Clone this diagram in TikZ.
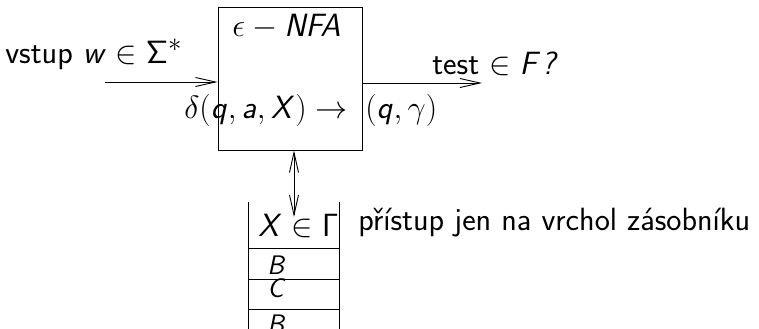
\documentclass[tikz,border=0pt]{standalone}
\usetikzlibrary{arrows.meta}
\DeclareMathAlphabet{\mathsfsl}{OT1}{cmss}{m}{sl}
\DeclareMathAlphabet{\mathsfup}{OT1}{cmss}{m}{n}
\newcommand\mi[1]{\mathsfsl{#1}}
\tikzset{
 lbl/.style={font=\fontsize{24.88}{30}\selectfont\sffamily, inner sep=0pt, anchor=base west},
 cell/.style={lbl, font=\fontsize{20.74}{25}\selectfont\sffamily},
 ln/.style={line width=0.7pt},
 tip/.style={-{Straight Barb[length=15.5pt,width=7pt]}},
 dtip/.style={{Straight Barb[length=15.5pt,width=7pt]}-{Straight Barb[length=15.5pt,width=7pt]}}
}
\begin{document}
\begin{tikzpicture}[x=0.773pt,y=-0.773pt]
\useasboundingbox (0,0) rectangle (759,328);
\node[ln,draw,minimum width=111.3pt,minimum height=110.5pt,inner sep=0pt] (box) at (290,78.5) {};
\node[lbl] (nfa) at (232,36) {$\epsilon - \mi{NFA}$};
\node[lbl] (delta) at (184,118) {$\delta(\mi{q},\mi{a},\mi{X}) \to$};
\node[lbl] (res) at (365,118) {$(\mi{q},\gamma)$};
\node[lbl] (vstup) at (5,63) {vstup $\mi{w}\in\mathsfup{\Sigma}^*$};
\coordinate (in) at (105,82);
\draw[ln,tip] (in) -- (in -| box.west);
\coordinate (out) at (482,83);
\draw[ln,tip] (out -| box.east) -- (out);
\node[lbl] (test) at (432,74) {test $\in\mi{F}$\textit{?}};
\coordinate (stacktop) at (294,217);
\draw[ln,dtip] (box.south -| stacktop) -- (stacktop);
\coordinate (sl) at (248,202);
\coordinate (sr) at (339,202);
\draw[ln] (sl) -- (248,330);
\draw[ln] (sr) -- (339,330);
\draw[ln] (248,248) -- (339,248);
\draw[ln] (248,279) -- (339,279);
\draw[ln] (248,309) -- (339,309);
\node[lbl] (top) at (258,236) {$\mi{X}\in\mathsfup{\Gamma}$};
\node[cell] (b1) at (267,274) {$\mi{B}$};
\node[cell] (c1) at (267,297) {$\mi{C}$};
\node[cell] (b2) at (267,333) {$\mi{B}$};
\node[lbl] (note) at (358,230) {přístup jen na vrchol zásobníku};
\end{tikzpicture}
\end{document}
